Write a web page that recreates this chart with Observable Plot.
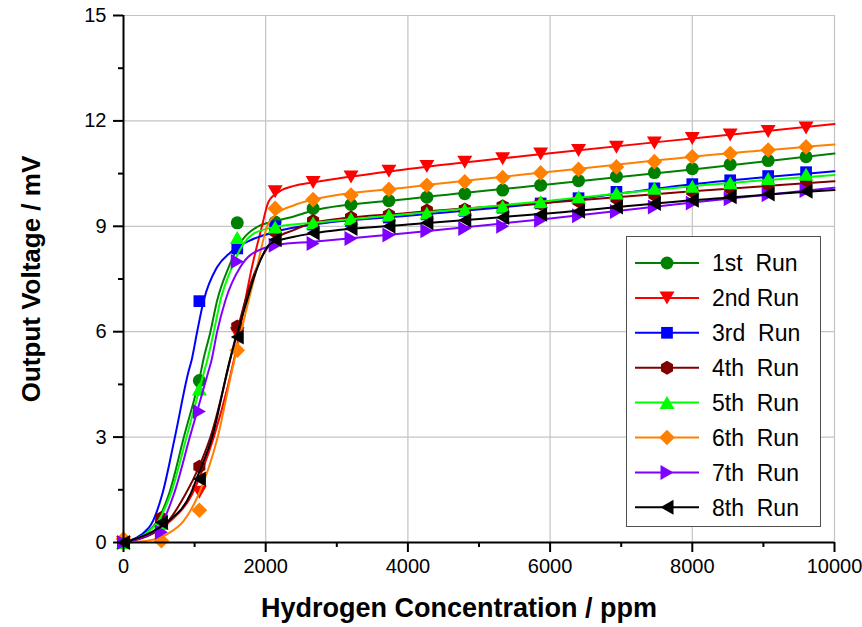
<!DOCTYPE html>
<html><head><meta charset="utf-8">
<script src="https://cdn.jsdelivr.net/npm/d3@7"></script>
<script src="https://cdn.jsdelivr.net/npm/@observablehq/plot@0.6"></script>
<style>
body{margin:0;background:#fff;}
#wrap{position:relative;width:862px;height:627px;font-family:"Liberation Sans",Arial,sans-serif;}
#legend{position:absolute;left:626px;top:236px;width:195px;height:291px;border:1.5px solid #505050;background:#fff;box-sizing:border-box;}
</style></head><body><div id="wrap"><div id="legend"></div></div>
<script>
// ---- data ----
const concentration = [0,533,1067,1600,2133,2667,3200,3733,4267,4800,5333,5867,6400,6933,7467,8000,8533,9067,9600];
const run1 = [0,0.6,4.61,9.10,9.12,9.51,9.62,9.73,9.83,9.93,10.03,10.17,10.30,10.42,10.53,10.64,10.76,10.87,10.98];
const run2 = [0,0.35,1.43,5.94,9.98,10.25,10.40,10.57,10.70,10.82,10.92,11.06,11.16,11.25,11.37,11.50,11.60,11.70,11.80];
const run3 = [0,0.6,6.87,8.37,9.0,9.05,9.15,9.25,9.34,9.44,9.53,9.65,9.80,9.98,10.08,10.20,10.31,10.43,10.54];
const run4 = [0,0.7,2.16,6.15,8.85,9.15,9.25,9.32,9.45,9.48,9.57,9.65,9.72,9.80,9.90,10.0,10.08,10.17,10.25];
const run5 = [0,0.55,4.37,8.68,8.98,9.10,9.22,9.32,9.38,9.48,9.57,9.70,9.84,9.95,10.08,10.14,10.24,10.36,10.48];
const run6 = [0.1,0.05,0.92,5.47,9.51,9.76,9.89,10.05,10.17,10.27,10.39,10.52,10.62,10.69,10.84,10.98,11.07,11.17,11.26];
const run7 = [0,0.29,3.73,8.00,8.46,8.51,8.65,8.75,8.87,8.94,9.0,9.17,9.30,9.42,9.55,9.66,9.78,9.90,10.02];
const run8 = [0,0.57,1.81,5.85,8.62,8.81,8.94,9.0,9.10,9.17,9.25,9.34,9.43,9.55,9.65,9.74,9.84,9.92,10.0];

// fitted curves, [ppm, mV]
const fit1 = [[0,0],[406,0.43],[639,1.38],[849,3.0],[1093,4.9],[1121,5.18],[1223,6.0],[1317,6.89],[1480,7.84],[1667,8.6],[1877,8.98],[2064,9.12],[2344,9.25],[2667,9.45],[4000,9.78],[6000,10.2],[8000,10.62],[10000,11.07]];
const fit2 = [[0,0],[382,0.24],[663,0.62],[967,1.38],[1107,2.05],[1270,3.0],[1634,6.0],[1713,6.89],[1807,7.84],[1947,9.0],[2040,9.7],[2200,10.0],[2400,10.15],[2667,10.25],[4000,10.63],[6000,11.08],[8000,11.5],[10000,11.91]];
const fit3 = [[0,0],[360,0.43],[546,1.38],[723,3.0],[919,4.9],[957,5.18],[1036,6.0],[1130,6.9],[1317,7.84],[1500,8.25],[1783,8.6],[2150,8.85],[2667,9.05],[4000,9.3],[6000,9.68],[8000,10.2],[10000,10.57]];
const fit4 = [[0,0],[546,0.43],[873,1.38],[1059,2.14],[1223,3.0],[1597,6.0],[1713,6.89],[1877,7.84],[2110,8.6],[2400,8.9],[2667,9.1],[4000,9.38],[6000,9.68],[8000,10.0],[10000,10.28]];
const fit5 = [[0,0],[420,0.43],[663,1.38],[887,3.0],[1139,4.9],[1177,5.18],[1270,6.0],[1363,6.89],[1527,7.84],[1634,8.32],[1830,8.79],[2133,8.98],[2667,9.1],[4000,9.35],[6000,9.73],[8000,10.14],[10000,10.46]];
const fit6 = [[0,0],[336,0.05],[616,0.24],[849,0.62],[1059,1.38],[1325,3.0],[1527,4.9],[1559,5.18],[1653,6.0],[1760,6.89],[1877,7.84],[2017,8.98],[2157,9.36],[2400,9.6],[2667,9.76],[4000,10.11],[6000,10.55],[8000,10.98],[10000,11.33]];
const fit7 = [[0,0],[499,0.43],[709,1.38],[933,3.0],[1199,4.9],[1237,5.18],[1317,6.0],[1433,6.89],[1643,7.84],[1783,8.18],[2157,8.47],[2667,8.56],[4000,8.81],[6000,9.22],[8000,9.68],[10000,10.1]];
const fit8 = [[0,0],[400,0.3],[639,0.62],[943,1.38],[1037,1.86],[1247,3.0],[1494,5.18],[1606,6.0],[1737,6.89],[1886,7.84],[2064,8.5],[2400,8.7],[2667,8.8],[4000,9.05],[6000,9.37],[8000,9.74],[10000,10.03]];

const runNames = ["1st  Run","2nd Run","3rd  Run","4th  Run","5th  Run","6th  Run","7th  Run","8th  Run"];
const runColors = ["#008000","#ff0000","#0000ff","#800000","#00ff00","#ff8000","#8000ff","#000000"];
const yTicks = [0,3,6,9,12,15];
const yMinor = [1.5,4.5,7.5,10.5,13.5];
const xTicks = [0,2000,4000,6000,8000,10000];
const xMinor = [1000,3000,5000,7000,9000];
const xTitle = "Hydrogen Concentration / ppm";
const yTitle = "Output Voltage / mV";

// ---- symbols ----
function poly(pts){return {draw(ctx,size){const s=Math.sqrt(size/Math.PI);ctx.moveTo(pts[0][0]*s,pts[0][1]*s);for(const p of pts.slice(1))ctx.lineTo(p[0]*s,p[1]*s);ctx.closePath();}};}
const symCircle={draw(ctx,size){const s=Math.sqrt(size/Math.PI);ctx.moveTo(s,0);ctx.arc(0,0,s,0,2*Math.PI);}};
const hexPts=d3.range(6).map(k=>{const a=(-90+60*k)*Math.PI/180;return [1.07*Math.cos(a),1.07*Math.sin(a)];});
const symbols=[symCircle,poly([[-1.15,-1],[1.15,-1],[0,1]]),poly([[-0.9,-0.9],[0.9,-0.9],[0.9,0.9],[-0.9,0.9]]),poly(hexPts),
  poly([[-1.15,1],[1.15,1],[0,-1]]),poly([[0,-1.2],[1.2,0],[0,1.2],[-1.2,0]]),poly([[-1,-1.15],[-1,1.15],[1,0]]),poly([[1,-1.15],[1,1.15],[-1,0]])];

const runs=[run1,run2,run3,run4,run5,run6,run7,run8];
const fits=[fit1,fit2,fit3,fit4,fit5,fit6,fit7,fit8];

const marks=[
  Plot.gridY(yTicks.slice(1),{stroke:"#c4c4c4",strokeOpacity:1,strokeWidth:1.2}),
  Plot.gridX(xTicks.slice(1),{stroke:"#c4c4c4",strokeOpacity:1,strokeWidth:1.2}),
];
runs.forEach((r,i)=>{
  const pts=concentration.map((c,j)=>({x:c,y:r[j]}));
  marks.push(Plot.line(fits[i],{x:d=>d[0],y:d=>d[1],stroke:runColors[i],strokeWidth:2,curve:"monotone-x"}));
  marks.push(Plot.dot(pts,{x:"x",y:"y",r:6.5,symbol:symbols[i],fill:runColors[i],stroke:"none"}));
});
marks.push(
  Plot.ruleX([0],{stroke:"#000",strokeWidth:2}),
  Plot.ruleY([0],{stroke:"#000",strokeWidth:2}),
  Plot.axisY({ticks:yTicks,tickSize:10,tickPadding:7,fontSize:20,label:null,strokeWidth:2}),
  Plot.axisY({ticks:yMinor,tickSize:5,text:null,label:null,strokeWidth:2}),
  Plot.axisX({ticks:xTicks,tickSize:10,tickPadding:6,fontSize:20,label:null,strokeWidth:2,tickFormat:d=>String(d)}),
  Plot.axisX({ticks:xMinor,tickSize:5,text:null,label:null,strokeWidth:2}),
  Plot.text([xTitle],{frameAnchor:"bottom",textAnchor:"middle",lineAnchor:"middle",dy:66,dx:-20,fontSize:27,fontWeight:"bold",fill:"#000"}),
  Plot.text([yTitle],{frameAnchor:"left",textAnchor:"middle",lineAnchor:"middle",dx:-92,rotate:-90,fontSize:26,fontWeight:"bold",fill:"#000"})
);

const chart=Plot.plot({
  width:862,height:627,marginLeft:123,marginRight:28,marginTop:15,marginBottom:85,
  x:{domain:[0,10000]},y:{domain:[0,15]},
  style:{fontFamily:'"Liberation Sans",Arial,sans-serif',color:"#000",background:"#fff",overflow:"visible"},
  marks
});
const wrap=document.getElementById("wrap");
wrap.insertBefore(chart,wrap.firstChild);

// ---- legend ----
const lg=d3.select("#legend").append("svg").attr("width",192).attr("height",288).style("display","block");
runNames.forEach((name,i)=>{
  const y=26+i*34.9;
  const g=lg.append("g").attr("transform",`translate(0,${y})`);
  g.append("line").attr("x1",8).attr("x2",72).attr("y1",0).attr("y2",0).attr("stroke",runColors[i]).attr("stroke-width",2);
  g.append("path").attr("transform","translate(40,0)").attr("d",d3.symbol(symbols[i],Math.PI*6.5*6.5)()).attr("fill",runColors[i]);
  g.append("text").attr("x",85).attr("y",0).attr("dy","0.36em").attr("font-size",23).attr("xml:space","preserve").style("white-space","pre")
    .attr("font-family",'"Liberation Sans",Arial,sans-serif').text(name);
});
</script></body></html>
